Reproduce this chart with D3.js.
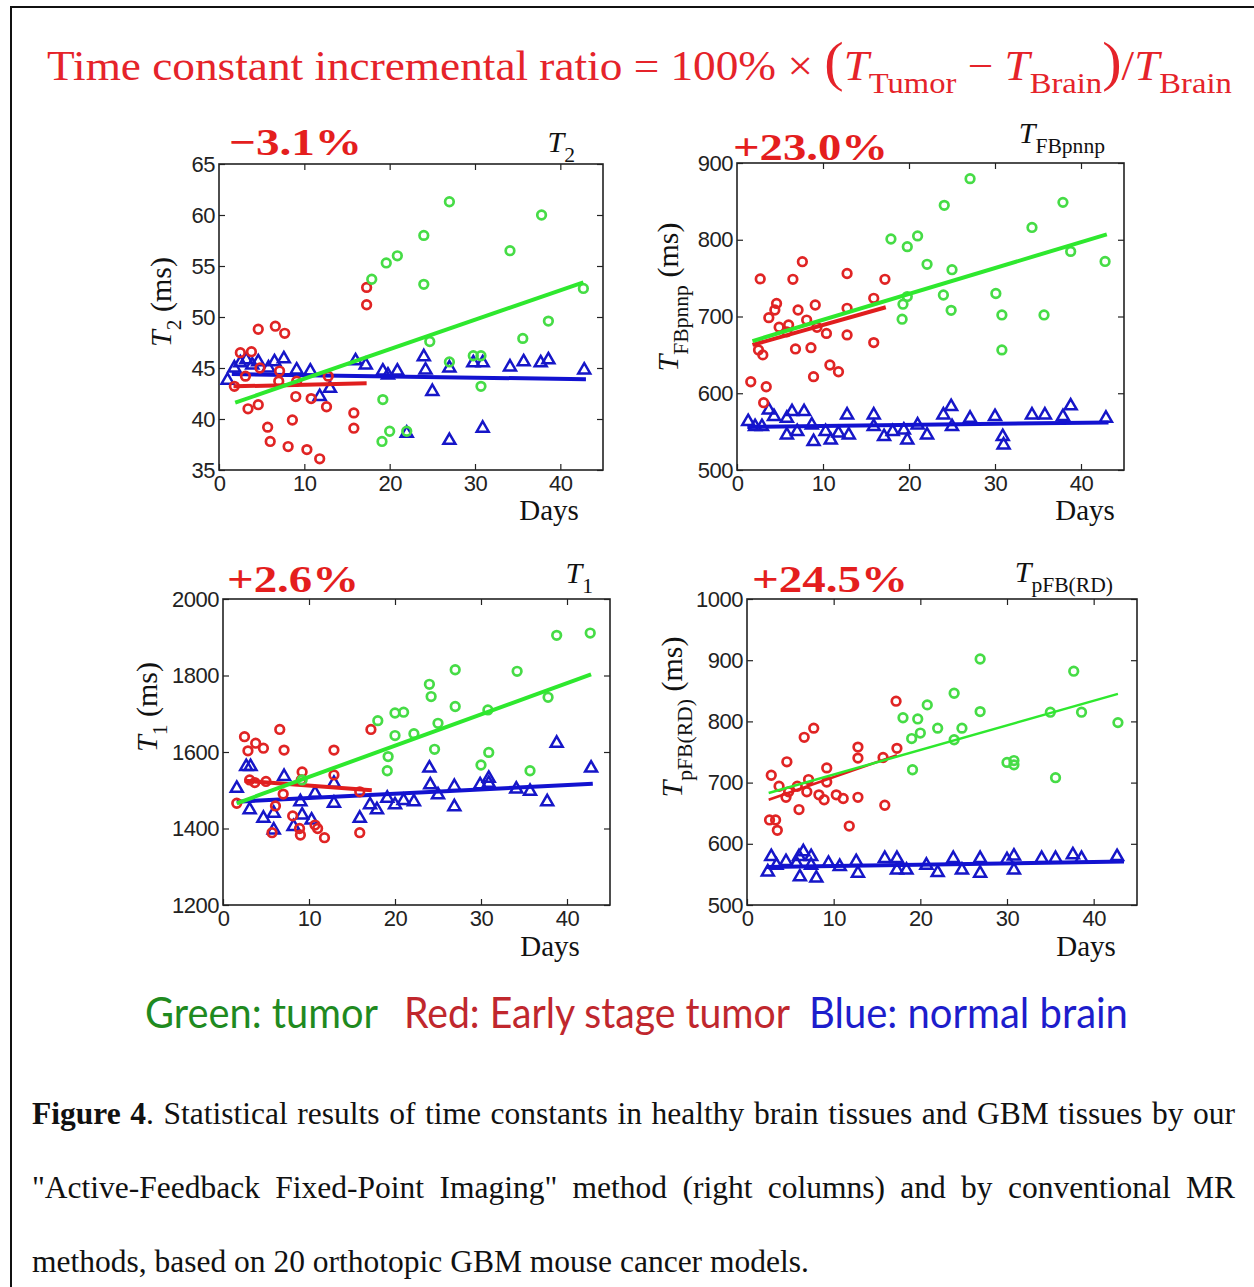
<!DOCTYPE html>
<html>
<head>
<meta charset="utf-8">
<script src="https://cdn.jsdelivr.net/npm/d3@7"></script>
<style>
  body { margin: 0; background: #fff; }
  svg { display: block; }
</style>
</head>
<body>
<svg id="fig" width="1254" height="1287"></svg>
<script>

// ---- data: [day, value] ----
const dayTicks = [0, 10, 20, 30, 40];

// T2 panel
const t2Ticks = [35, 40, 45, 50, 55, 60, 65];
const t2Green = [[27.0,61.3],[37.8,60.0],[34.1,56.5],[20.9,56.0],[19.6,55.3],[17.9,53.7],[24.0,58.0],[24.0,53.2],[42.7,52.8],[38.6,49.6],[35.6,47.9],[24.7,47.6],[27.0,45.6],[29.8,46.2],[30.7,46.2],[30.7,43.2],[19.2,41.9],[20.0,38.8],[19.1,37.8],[22.0,38.8]];
const t2Red = [[17.3,52.9],[17.3,51.2],[4.6,48.8],[6.6,49.1],[7.7,48.4],[2.5,46.5],[3.8,46.6],[4.8,45.0],[7.1,44.7],[3.1,44.2],[1.8,43.2],[7.0,43.7],[9.1,43.7],[12.8,44.2],[9.0,42.2],[10.8,42.0],[12.6,41.2],[3.4,41.0],[4.6,41.4],[15.8,40.6],[15.8,39.1],[8.6,39.9],[5.7,39.2],[6.0,37.8],[8.1,37.3],[10.3,37.0],[11.8,36.1]];
const t2Blue = [[1.0,43.8],[1.8,45.0],[2.5,45.5],[3.2,45.8],[3.9,45.3],[4.6,45.6],[5.8,45.0],[6.5,45.6],[7.6,45.9],[9.1,44.8],[10.7,44.7],[11.8,42.2],[13.0,43.0],[16.0,45.7],[17.2,45.3],[19.2,44.7],[19.8,44.3],[20.9,44.7],[22.0,38.6],[24.0,46.1],[24.2,44.8],[25.0,42.7],[27.0,45.0],[27.0,37.9],[29.8,45.5],[30.9,45.5],[30.9,39.1],[34.1,45.1],[35.7,45.6],[37.7,45.5],[38.6,45.8],[42.8,44.8]];
const t2GreenFit = [[1.9,41.6],[42.7,53.4]];
const t2RedFit = [[1.7,43.2],[17.3,43.5]];
const t2BlueFit = [[1.5,44.4],[43.0,43.9]];

// T_FBpnnp panel
const fbTicks = [500, 600, 700, 800, 900];
const fbGreen = [[27.1,879.6],[37.9,848.7],[24.1,844.8],[34.3,816],[21.0,805],[17.9,801],[19.8,791],[38.8,784.8],[42.8,771.7],[22.1,768],[25.0,761],[30.1,730],[24.0,728],[19.8,726],[19.3,716],[24.9,708],[30.8,702],[35.7,702],[19.2,696.5],[30.8,656.5]];
const fbRed = [[2.7,749],[7.6,771.4],[6.5,748.5],[12.8,756],[17.2,748.5],[4.6,717],[4.4,708.5],[3.7,698.5],[7.1,708.5],[9.1,715],[12.8,710.7],[15.9,723.7],[8.1,695.4],[4.9,686],[6.0,689],[5.8,680],[9.3,686],[10.4,678],[12.8,676],[15.9,666],[2.5,656.4],[3.0,650],[6.8,657.7],[8.6,659.4],[10.8,636.8],[11.8,628],[8.9,621.6],[1.6,615],[3.4,608.5],[3.1,587.7]];
const fbBlue = [[1.3,563],[2.1,556.5],[2.9,556.5],[3.7,578],[4.3,569.6],[5.8,567.4],[6.4,576],[7.8,576],[5.8,545.6],[7.0,550],[8.7,558.7],[8.9,537],[10.3,550],[10.9,539],[11.8,548],[12.8,571.7],[13.0,545.6],[15.9,571.7],[15.9,556.5],[17.1,543.5],[18.1,550],[19.4,552],[19.8,539],[21.0,558.7],[22.1,545.6],[24.0,571.7],[24.9,582.6],[25.0,556.5],[27.1,567.4],[30.0,569.6],[30.9,543.5],[31.0,532.6],[34.3,571.7],[35.8,571.7],[37.9,569.6],[38.8,583.5],[42.9,567.4]];
const fbGreenFit = [[1.8,668],[43.0,807]];
const fbRedFit = [[1.8,663],[17.3,712]];
const fbBlueFit = [[1.2,556],[43.2,562]];

// T1 panel
const t1Ticks = [1200, 1400, 1600, 1800, 2000];
const t1Green = [[42.7,1911],[38.8,1905],[27.0,1815],[34.2,1811],[24.0,1777],[24.2,1745],[37.8,1743],[27.0,1719],[20.0,1702],[21.0,1704],[18.0,1682],[30.8,1710],[25.0,1675],[22.2,1648],[20.0,1643],[19.2,1588],[24.6,1607],[30.9,1599],[30.0,1566],[19.1,1551],[35.7,1551],[9.2,1527]];
const t1Red = [[17.2,1659],[6.6,1659],[2.5,1640],[3.8,1623],[4.7,1610],[2.9,1603],[7.1,1605],[12.9,1605],[9.2,1548],[12.9,1540],[3.1,1527],[3.7,1520],[5.0,1523],[9.1,1527],[15.9,1496],[1.6,1466],[6.1,1459],[7.0,1490],[8.1,1433],[10.7,1409],[11.0,1400],[5.7,1389],[8.9,1400],[9.0,1383],[11.8,1376],[15.9,1389]];
const t1Blue = [[1.6,1505],[2.7,1562],[3.2,1562],[3.1,1449],[4.7,1427],[5.9,1396],[5.9,1440],[7.1,1536],[8.2,1405],[9.0,1470],[9.2,1435],[10.3,1422],[10.7,1492],[12.9,1466],[12.9,1518],[15.9,1427],[17.1,1462],[17.9,1449],[19.1,1479],[20.0,1462],[21.0,1473],[22.2,1470],[24.0,1558],[24.1,1514],[25.0,1488],[26.9,1457],[26.9,1510],[29.9,1514],[30.9,1531],[30.9,1518],[34.1,1503],[35.7,1497],[37.7,1470],[38.8,1623],[42.8,1558]];
const t1GreenFit = [[1.6,1466],[42.8,1803]];
const t1RedFit = [[2.5,1525],[17.3,1500]];
const t1BlueFit = [[1.6,1470],[43.0,1517]];

// T_pFB(RD) panel
const rdTicks = [500, 600, 700, 800, 900, 1000];
const rdGreen = [[26.9,902],[37.7,882],[23.9,846],[20.8,827],[35.0,815],[38.6,815],[26.9,816],[18.0,806],[19.7,804],[42.8,798],[22.0,789],[24.8,789],[20.0,781],[19.0,772],[23.9,770],[30.0,733],[30.8,736],[30.8,729],[19.1,721],[35.6,708]];
const rdRed = [[17.2,833],[7.7,789],[6.6,774],[12.8,758],[12.8,740],[17.3,756],[15.7,741],[4.6,734],[9.2,724],[2.8,712],[7.1,705],[3.7,694],[5.8,694],[4.8,685],[6.9,685],[8.3,680],[9.2,701],[4.5,676],[8.9,672],[10.3,680],[11.1,674],[12.8,676],[6.0,656],[15.9,663],[11.8,629],[2.6,639],[3.3,639],[3.5,622]];
const rdBlue = [[2.4,554],[2.8,579],[3.4,565],[4.5,571],[5.7,568],[6.0,579],[6.5,587],[7.4,579],[6.1,546],[8.0,544],[7.4,565],[9.4,568],[10.7,563],[12.6,571],[12.8,552],[15.9,576],[17.3,576],[17.3,557],[18.4,557],[20.7,565],[22.0,553],[23.8,576],[24.8,557],[26.9,576],[26.9,552],[30.0,574],[30.8,580],[30.8,557],[34.0,576],[35.6,576],[37.6,582],[38.6,576],[42.7,579]];
const rdGreenFit = [[2.5,683],[42.8,845]];
const rdRedFit = [[2.5,672],[17.3,745]];
const rdBlueFit = [[2.3,562],[43.5,571]];

const pctLabels = ["\u22123.1%", "+23.0%", "+2.6%", "+24.5%"];

// ---- colours ----
const GREEN_PT = "#46dc46", GREEN_LN = "#2ee82e";
const RED_PT = "#e02424", RED_LN = "#e01e1e";
const BLUE_PT = "#1616c8", BLUE_LN = "#1212d0";
const SERIF = "'Liberation Serif','Times New Roman',serif";
const SANS = "'Liberation Sans',Arial,sans-serif";

const svg = d3.select("#fig");

// frame round the figure
svg.append("rect")
    .attr("x", 11).attr("y", 7)
    .attr("width", 1300).attr("height", 1350)
    .attr("fill", "none").attr("stroke", "#111").attr("stroke-width", 2);

// text with italic / subscript parts; parts: {t, it, sub, size}
function richText(sel, parts, size) {
    let shift = 0;
    parts.forEach(function(p) {
        const ts = sel.append("tspan").text(p.t);
        let target = 0;
        let fs = p.size || size;
        if (p.sub) { target = size * 0.32; fs = size * 0.72; }
        ts.attr("dy", target - shift).style("font-size", fs + "px");
        shift = target;
        if (p.it) ts.style("font-style", "italic");
        if (p.bold) ts.style("font-weight", "bold");
    });
    return sel;
}

function fitWidth(textSel, x0, x1, baseY) {
    const w = textSel.node().getComputedTextLength();
    const sx = (x1 - x0) / w;
    textSel.attr("x", 0).attr("y", 0)
        .attr("transform", `translate(${x0},${baseY}) scale(${sx},1)`);
}

// ---- title ----
const title = svg.append("text")
    .style("font-family", SERIF).style("font-size", "42px").attr("fill", "#e5232a");
richText(title, [
    {t: "Time constant incremental ratio = 100% \u00d7 "},
    {t: "(", size: 54},
    {t: "T", it: true}, {t: "Tumor", sub: true},
    {t: " \u2212 "},
    {t: "T", it: true}, {t: "Brain", sub: true},
    {t: ")", size: 54},
    {t: "/"},
    {t: "T", it: true}, {t: "Brain", sub: true}
], 42);
fitWidth(title, 47, 1232, 80);

// ---- panels ----
const panels = [
    {box: {left: 219, top: 164, right: 603, bottom: 470}, ticks: t2Ticks,
     green: t2Green, red: t2Red, blue: t2Blue,
     gFit: t2GreenFit, rFit: t2RedFit, bFit: t2BlueFit, lw: 4, blw: 4,
     pct: {x: 229, y: 155, w: 133},
     corner: {x: 575, y: 152, parts: [{t: "T", it: true}, {t: "2", sub: true}]},
     ylab: {x: 171, y: 302, parts: [{t: "T", it: true}, {t: "2", sub: true}, {t: " (ms)"}]},
     days: {x: 549, y: 520}},
    {box: {left: 737, top: 163, right: 1124, bottom: 470}, ticks: fbTicks,
     green: fbGreen, red: fbRed, blue: fbBlue,
     gFit: fbGreenFit, rFit: fbRedFit, bFit: fbBlueFit, lw: 4, blw: 4,
     pct: {x: 733, y: 160, w: 155},
     corner: {x: 1105, y: 143, parts: [{t: "T", it: true}, {t: "FBpnnp", sub: true}]},
     ylab: {x: 678, y: 297, parts: [{t: "T", it: true}, {t: "FBpnnp", sub: true}, {t: " (ms)"}]},
     days: {x: 1085, y: 520}},
    {box: {left: 223, top: 599, right: 610, bottom: 905}, ticks: t1Ticks,
     green: t1Green, red: t1Red, blue: t1Blue,
     gFit: t1GreenFit, rFit: t1RedFit, bFit: t1BlueFit, lw: 4, blw: 4,
     pct: {x: 227, y: 592, w: 132},
     corner: {x: 593, y: 583, parts: [{t: "T", it: true}, {t: "1", sub: true}]},
     ylab: {x: 157, y: 707, parts: [{t: "T", it: true}, {t: "1", sub: true}, {t: " (ms)"}]},
     days: {x: 550, y: 956}},
    {box: {left: 747, top: 599, right: 1137, bottom: 905}, ticks: rdTicks,
     green: rdGreen, red: rdRed, blue: rdBlue,
     gFit: rdGreenFit, rFit: rdRedFit, bFit: rdBlueFit, lw: 2.5, blw: 4,
     pct: {x: 752, y: 592, w: 156},
     corner: {x: 1113, y: 582, parts: [{t: "T", it: true}, {t: "pFB(RD)", sub: true}]},
     ylab: {x: 682, y: 717, parts: [{t: "T", it: true}, {t: "pFB(RD)", sub: true}, {t: " (ms)"}]},
     days: {x: 1086, y: 956}}
];

const triangle = d3.symbol().type(d3.symbolTriangle).size(62);

panels.forEach(function(p, i) {
    const b = p.box;
    const x = d3.scaleLinear().domain([0, 45]).range([b.left, b.right]);
    const y = d3.scaleLinear().domain(d3.extent(p.ticks)).range([b.bottom, b.top]);
    const g = svg.append("g");

    // axes, MATLAB style: ticks inside on all four sides
    const styleAxis = function(ax) {
        ax.select(".domain").remove();
        ax.selectAll(".tick line").attr("stroke", "#222").attr("stroke-width", 1.2);
        ax.selectAll("text").attr("fill", "#222")
            .style("font-family", SANS).style("font-size", "22px")
            .style("letter-spacing", "-0.5px");
    };
    g.append("g").attr("transform", `translate(0,${b.bottom})`)
        .call(d3.axisBottom(x).tickValues(dayTicks).tickFormat(d3.format("d"))
            .tickSizeInner(-6).tickSizeOuter(0).tickPadding(5))
        .call(styleAxis);
    g.append("g").attr("transform", `translate(0,${b.top})`)
        .call(d3.axisTop(x).tickValues(dayTicks.slice(1)).tickSizeInner(-6).tickSizeOuter(0).tickFormat(""))
        .call(styleAxis);
    g.append("g").attr("transform", `translate(${b.left},0)`)
        .call(d3.axisLeft(y).tickValues(p.ticks).tickFormat(d3.format("d"))
            .tickSizeInner(-6).tickSizeOuter(0).tickPadding(4))
        .call(styleAxis);
    g.append("g").attr("transform", `translate(${b.right},0)`)
        .call(d3.axisRight(y).tickValues(p.ticks).tickSizeInner(-6).tickSizeOuter(0).tickFormat(""))
        .call(styleAxis);

    g.append("rect")
        .attr("x", b.left).attr("y", b.top)
        .attr("width", b.right - b.left).attr("height", b.bottom - b.top)
        .attr("fill", "none").attr("stroke", "#222").attr("stroke-width", 1.6);

    const line = d3.line().x(d => x(d[0])).y(d => y(d[1]));

    // normal brain
    g.selectAll(".blue").data(p.blue).enter().append("path")
        .attr("d", triangle)
        .attr("transform", d => `translate(${x(d[0])},${y(d[1])})`)
        .attr("fill", "none").attr("stroke", BLUE_PT).attr("stroke-width", 2.5);
    g.append("path").datum(p.bFit).attr("d", line)
        .attr("fill", "none").attr("stroke", BLUE_LN).attr("stroke-width", p.blw);

    // early stage tumour
    g.selectAll(".red").data(p.red).enter().append("circle")
        .attr("cx", d => x(d[0])).attr("cy", d => y(d[1])).attr("r", 4.3)
        .attr("fill", "none").attr("stroke", RED_PT).attr("stroke-width", 2.7);
    g.append("path").datum(p.rFit).attr("d", line)
        .attr("fill", "none").attr("stroke", RED_LN).attr("stroke-width", p.lw);

    // tumour
    g.selectAll(".green").data(p.green).enter().append("circle")
        .attr("cx", d => x(d[0])).attr("cy", d => y(d[1])).attr("r", 4.3)
        .attr("fill", "none").attr("stroke", GREEN_PT).attr("stroke-width", 2.7);
    g.append("path").datum(p.gFit).attr("d", line)
        .attr("fill", "none").attr("stroke", GREEN_LN).attr("stroke-width", p.lw);

    // percentage
    svg.append("text")
        .attr("x", p.pct.x).attr("y", p.pct.y)
        .attr("textLength", p.pct.w).attr("lengthAdjust", "spacingAndGlyphs")
        .attr("fill", "#e41e1e")
        .style("font-family", SERIF).style("font-weight", "bold").style("font-size", "38px")
        .text(pctLabels[i]);

    // corner label
    const corner = svg.append("text")
        .attr("x", p.corner.x).attr("y", p.corner.y)
        .attr("text-anchor", "end").attr("fill", "#111")
        .style("font-family", SERIF).style("font-size", "30px");
    richText(corner, p.corner.parts, 30);

    // y axis label
    const yl = svg.append("text")
        .attr("transform", `translate(${p.ylab.x},${p.ylab.y}) rotate(-90)`)
        .attr("text-anchor", "middle").attr("fill", "#111")
        .style("font-family", SERIF).style("font-size", "30px");
    richText(yl, p.ylab.parts, 30);

    // Days
    svg.append("text")
        .attr("x", p.days.x).attr("y", p.days.y)
        .attr("text-anchor", "middle").attr("fill", "#111")
        .style("font-family", SERIF).style("font-size", "29px")
        .text("Days");
});

// ---- colour key ----
const keys = [
    {t: "Green: tumor", c: "#1f8a1f", x0: 145, x1: 378},
    {t: "Red: Early stage tumor", c: "#c0272d", x0: 404, x1: 790},
    {t: "Blue: normal brain", c: "#1d1dcc", x0: 809, x1: 1128}
];
keys.forEach(function(k) {
    const t = svg.append("text")
        .attr("fill", k.c)
        .style("font-family", "Lato,'Open Sans',sans-serif").style("font-size", "42px")
        .text(k.t);
    fitWidth(t, k.x0, k.x1, 1028);
});

// ---- caption ----
const capLines = [
    [{t: "Figure 4", bold: true}, {t: ". Statistical results of time constants in healthy brain tissues and GBM tissues by our"}],
    [{t: "\"Active-Feedback Fixed-Point Imaging\" method (right columns) and by conventional MR"}],
    [{t: "methods, based on 20 orthotopic GBM mouse cancer models."}]
];
const capY = [1124, 1198, 1272];
capLines.forEach(function(parts, i) {
    const t = svg.append("text")
        .attr("x", 32).attr("y", capY[i]).attr("fill", "#111")
        .style("font-family", SERIF).style("font-size", "31.5px");
    richText(t, parts, 31.5);
    if (i < 2) {
        // justified lines: spread the word gaps
        const w = t.node().getComputedTextLength();
        const gaps = parts.map(p => p.t).join("").split(" ").length - 1;
        t.style("word-spacing", ((1235 - 32 - w) / gaps) + "px");
    }
});

</script>
</body>
</html>
